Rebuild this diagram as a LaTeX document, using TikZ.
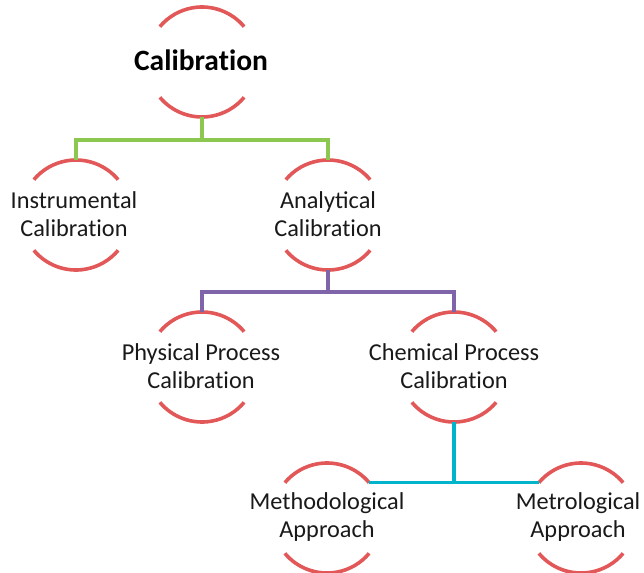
\documentclass[tikz,border=0pt]{standalone}
\usepackage{fontspec}
\setmainfont{Carlito}
\newcommand{\nolg}{\kern0pt }
\definecolor{arcred}{RGB}{226,88,88}
\definecolor{lgreen}{RGB}{140,200,80}
\definecolor{lpurple}{RGB}{128,100,170}
\definecolor{lcyan}{RGB}{0,180,204}
\begin{document}
\begin{tikzpicture}[x=1pt,y=1pt,
  ring/.style={circle, minimum size=110pt, inner sep=0pt, outer sep=0pt},
  lbl/.style={inner sep=0pt, align=center, text=black!90, font=\fontsize{24.3}{28.5}\selectfont},
  toplbl/.style={inner sep=0pt, text=black, font=\fontsize{29.5}{34}\selectfont\bfseries},
  arcline/.style={draw=arcred, line width=3.6pt},
  conn/.style={line width=3.2pt}]
\useasboundingbox (0,0) rectangle (644,-572);
% rings
\node[ring] (cal)   at (202,-62)  {};
\node[ring] (inst)  at (76,-215)  {};
\node[ring] (ana)   at (328,-215) {};
\node[ring] (phys)  at (202,-367) {};
\node[ring] (chem)  at (454,-367) {};
\node[ring] (meth)  at (327,-518) {};
\node[ring] (metro) at (581,-518) {};
% arcs
\foreach \n in {cal,inst,ana,phys,chem,meth,metro}{
  \draw[arcline] (\n.40) arc[start angle=40, end angle=140, radius=55];
  \draw[arcline] (\n.220) arc[start angle=220, end angle=320, radius=55];
}
% labels
\node[toplbl] (calt) at (201,-60) {Calibrat\nolg ion};
\node[lbl] (instt)  at (74,-214)  {Instrumental\\Calibrat\nolg ion};
\node[lbl] (anat)   at (328,-214) {Analytical\\Calibrat\nolg ion};
\node[lbl] (physt)  at (201,-366) {Physical Process\\Calibrat\nolg ion};
\node[lbl] (chemt)  at (454,-366) {Chemical Process\\Calibrat\nolg ion};
\node[lbl] (metht)  at (327,-517) {Methodological\\Approach};
\node[lbl] (metrot) at (578,-517) {Metrological\\Approach};
% connectors
\draw[conn, draw=lgreen] (cal.south) -- ++(0,-23) -| (inst.north);
\draw[conn, draw=lgreen] (cal.south) -- ++(0,-23) -| (ana.north);
\draw[conn, draw=lpurple] (ana.south) -- ++(0,-22) -| (phys.north);
\draw[conn, draw=lpurple] (ana.south) -- ++(0,-22) -| (chem.north);
\draw[conn, draw=lcyan] (chem.south) |- (meth.40);
\draw[conn, draw=lcyan] (chem.south) |- (metro.140);
\end{tikzpicture}
\end{document}
